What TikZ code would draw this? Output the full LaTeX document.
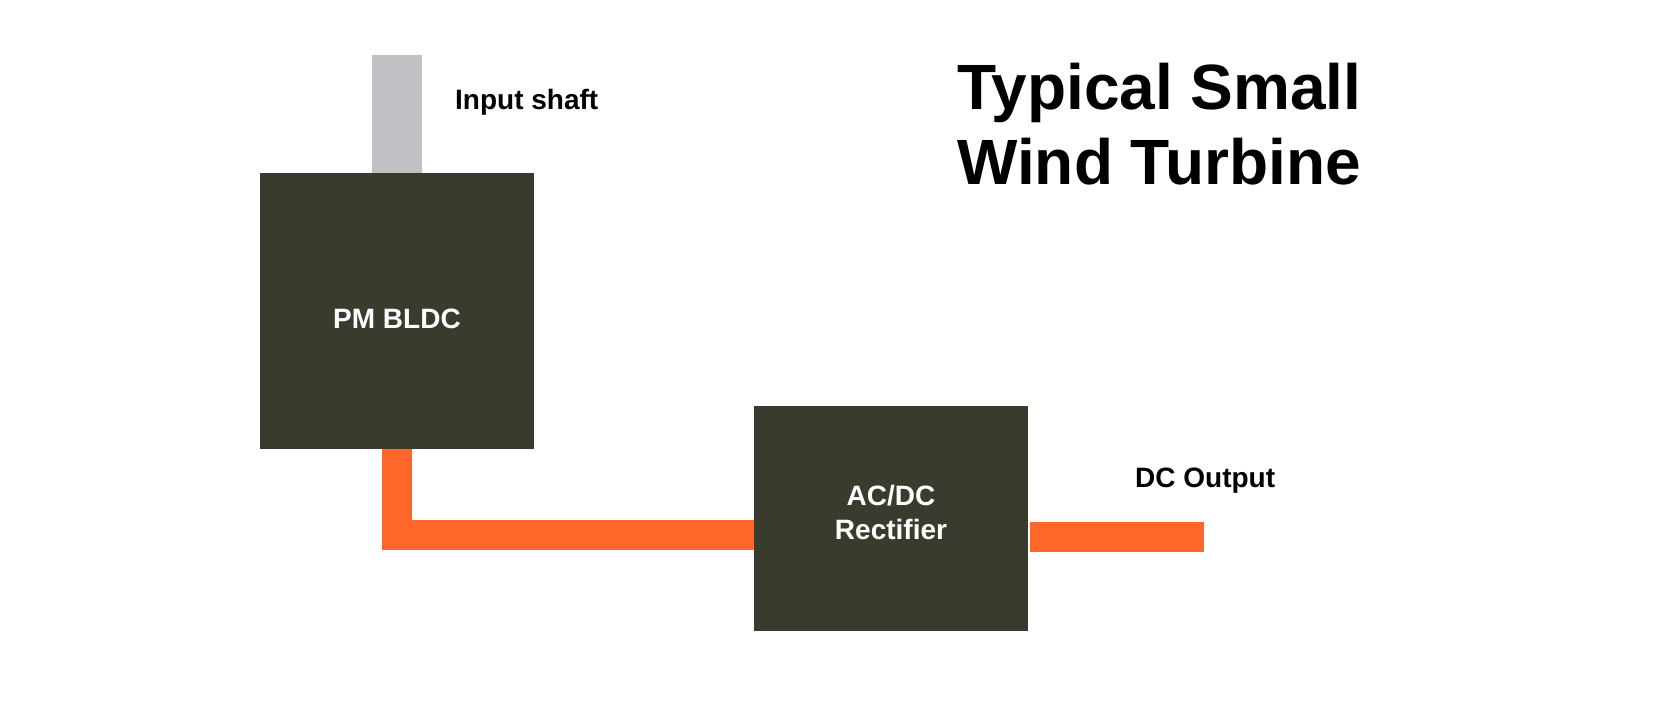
\documentclass[tikz,border=0pt]{standalone}
\usepackage{fontspec}
\setmainfont{Liberation Sans}
\usetikzlibrary{positioning, calc}
\definecolor{boxcolor}{RGB}{58,59,47}
\definecolor{wirecolor}{RGB}{255,102,41}
\definecolor{shaftcolor}{RGB}{192,193,196}
\tikzstyle{block} = [rectangle, fill=boxcolor, text=white, font=\fontsize{28}{34}\selectfont\bfseries, align=center, inner sep=0pt]
\tikzstyle{wire} = [line width=30pt, draw=wirecolor, line join=miter]
\tikzstyle{caption} = [font=\fontsize{28}{33}\selectfont\bfseries, inner sep=0pt]

\begin{document}
\begin{tikzpicture}[x=1pt, y=-1pt]
\useasboundingbox (0,0) rectangle (1664,708);

% Shaft
\node[rectangle, fill=shaftcolor, minimum width=50pt, minimum height=118pt, inner sep=0pt] (shaft) at (397,114) {};

% Blocks
\node[block, minimum width=274pt, minimum height=276pt, text height=36pt, text depth=0pt] (pm) at (397,311) {PM BLDC};
\node[block, minimum width=274pt, minimum height=225pt, text depth=12pt] (rect) at (891,518.5) {AC/DC\\Rectifier};

% Wires
\coordinate (bend) at (397,535);
\coordinate (dcend) at (1204,537);
\draw[wire] (pm.south) -- (bend) -- (bend -| rect.west);
\draw[wire] ($(rect.east |- dcend)+(2,0)$) -- (dcend);

% Labels
\node[caption, anchor=base west] (shaftlabel) at (455,110) {Input shaft};
\node[caption, anchor=base west] (outlabel) at (1135,487) {DC Output};

% Title
\node[font=\fontsize{64}{75}\selectfont\bfseries, align=left, anchor=base west, inner sep=0pt] (title) at (957,185) {Typical Small\\Wind Turbine};

\end{tikzpicture}
\end{document}
